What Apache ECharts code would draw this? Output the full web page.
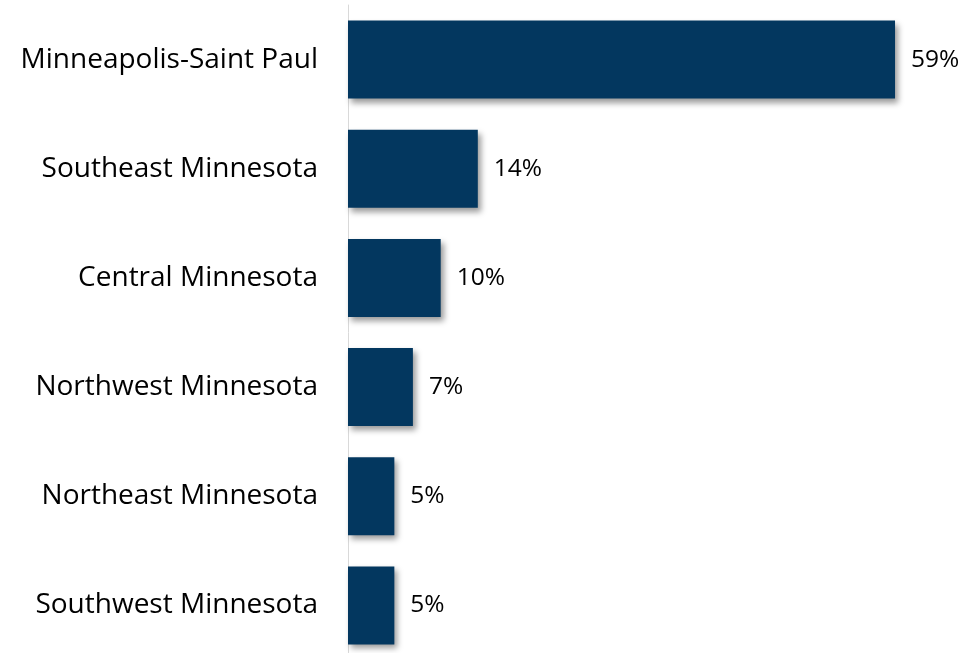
<!DOCTYPE html>
<html>
<head>
<meta charset="utf-8">
<script src="https://cdn.jsdelivr.net/npm/echarts@6/dist/echarts.min.js"></script>
<style>
  html, body { margin: 0; padding: 0; background: #fff; overflow: hidden; }
  #chart { width: 966px; height: 660px; }
</style>
</head>
<body>
<div id="chart"></div>
<script>
var regions = ['Minneapolis-Saint Paul', 'Southeast Minnesota', 'Central Minnesota',
  'Northwest Minnesota', 'Northeast Minnesota', 'Southwest Minnesota'];
var shares = [59, 14, 10, 7, 5, 5];

var myChart = echarts.init(document.getElementById('chart'));

var option = {
  animation: false,
  grid: {
    left: 348,
    right: 12,
    top: 5,
    bottom: 0
  },
  xAxis: {
    type: 'value',
    min: 0,
    max: 65.36,
    show: false
  },
  yAxis: {
    type: 'category',
    inverse: true,
    data: regions,
    axisLine: { show: true, lineStyle: { color: '#d9d9d9', width: 1 } },
    axisTick: { show: false },
    axisLabel: {
      margin: 30,
      fontFamily: 'Open Sans',
      fontSize: 28,
      color: '#000'
    }
  },
  series: [{
    type: 'bar',
    data: shares,
    barCategoryGap: '28.6%',
    itemStyle: {
      color: '#03375f',
      shadowColor: 'rgba(0,0,0,0.4)',
      shadowBlur: 6,
      shadowOffsetX: 3,
      shadowOffsetY: 4
    },
    label: {
      show: true,
      position: 'right',
      distance: 16,
      formatter: '{c}%',
      fontFamily: 'Open Sans',
      fontSize: 24.5,
      color: '#000'
    }
  }]
};

myChart.setOption(option);
</script>
</body>
</html>
